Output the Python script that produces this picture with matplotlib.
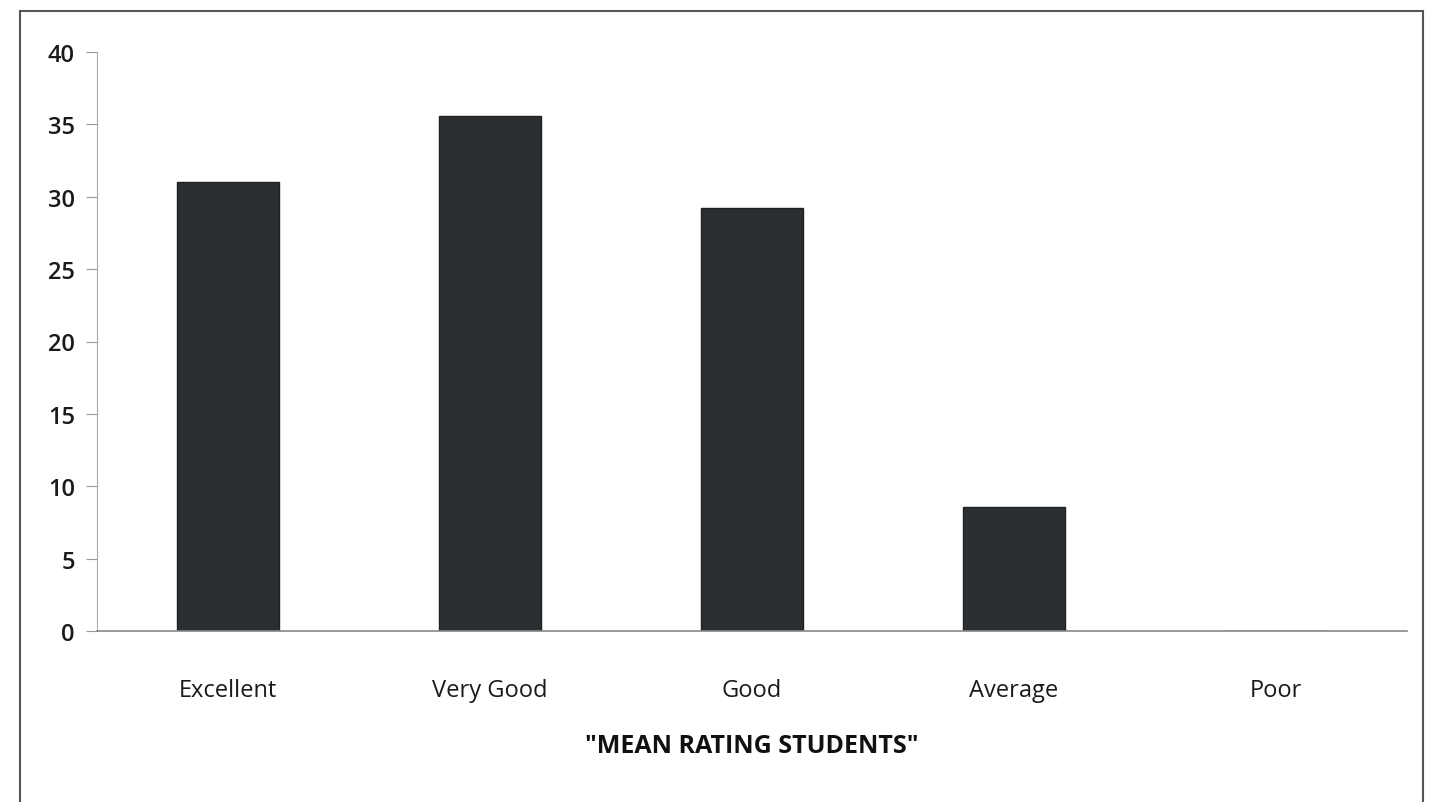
import matplotlib
matplotlib.use("Agg")
import matplotlib.pyplot as plt
from matplotlib.patches import Rectangle

categories = ["Excellent", "Very Good", "Good", "Average", "Poor"]
values = [31.0, 35.6, 29.2, 8.6, 0.0]
yticks = [0, 5, 10, 15, 20, 25, 30, 35, 40]
xlabel = '"MEAN RATING STUDENTS"'

plt.rcParams['font.family'] = ['Open Sans', 'DejaVu Sans']

fig = plt.figure(figsize=(14.43, 8.03), dpi=100)
ax = fig.add_axes([97/1443, 1 - 632/803, 1310/1443, (632-53)/803])

ax.bar(range(len(categories)), values, width=0.39, color="#2c2f31", edgecolor="#1e2022", linewidth=1)
ax.set_xlim(-0.5, len(categories) - 0.5)
ax.set_ylim(0, 40)
ax.set_yticks(yticks)
ax.set_yticklabels([str(t) for t in yticks], fontsize=17, fontweight='semibold', color="#1a1a1a")
ax.set_xticks(range(len(categories)))
ax.set_xticklabels(categories, fontsize=17, color="#1a1a1a")
ax.tick_params(axis='x', length=0, pad=34)
ax.tick_params(axis='y', length=8, color="#999999", direction='out', pad=8)
for s in ['top', 'right']:
    ax.spines[s].set_visible(False)
ax.spines['left'].set_color("#aaaaaa")
ax.spines['bottom'].set_color("#888888")
ax.spines['bottom'].set_linewidth(1.2)
ax.set_xlabel(xlabel, fontsize=18, fontweight='bold', labelpad=22, color="#111111")

fig.patches.append(Rectangle((20/1443, -0.05), (1423-20)/1443, 1 - 12/803 + 0.05,
                             transform=fig.transFigure, fill=False,
                             edgecolor="#555555", linewidth=1.5))

fig.savefig("out.png", dpi=100)
